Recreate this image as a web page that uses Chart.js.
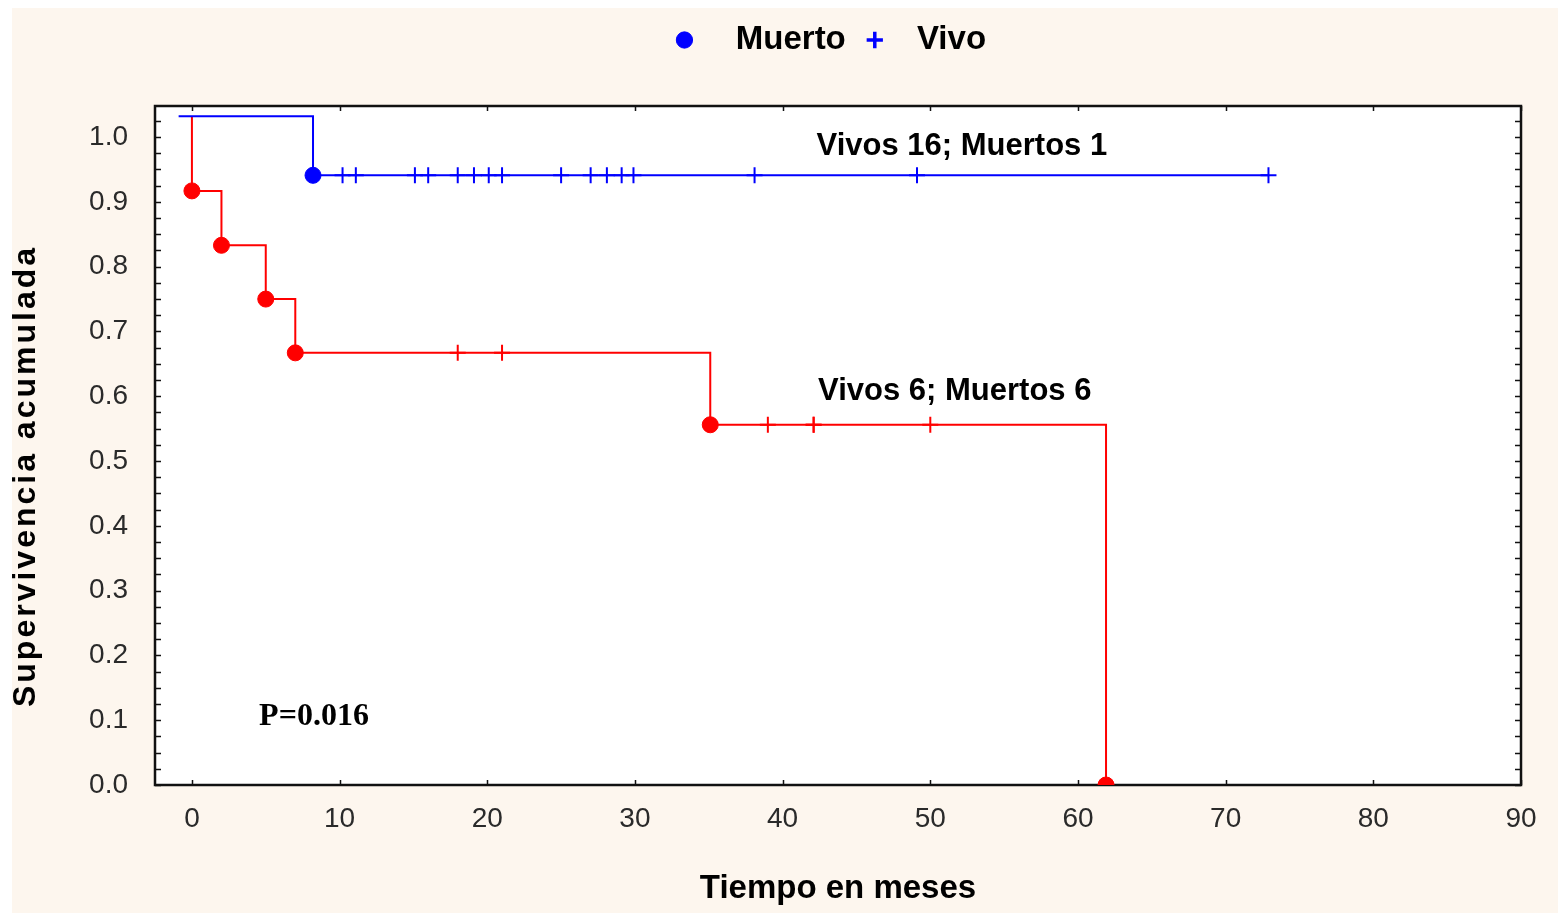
<!DOCTYPE html>
<html lang="es">
<head>
<meta charset="utf-8">
<title>Supervivencia acumulada</title>
<script src="https://cdn.jsdelivr.net/npm/chart.js@4.4.1/dist/chart.umd.min.js"></script>
<style>
  html, body { margin: 0; padding: 0; background: #ffffff; }
  #wrap { width: 1558px; height: 916px; position: relative; }
</style>
</head>
<body>
<div id="wrap"><canvas id="km" width="1558" height="916"></canvas></div>
<script>
// Kaplan–Meier step curves: time in months, cumulative survival level
const blueCurveTimes = [-0.9, 8.2, 72.9];
const blueCurveSurv  = [1.032, 0.941, 0.941];
const redCurveTimes  = [0.0, 0.0, 2.0, 5.0, 7.0, 35.1, 61.9];
const redCurveSurv   = [1.032, 0.917, 0.833, 0.750, 0.667, 0.556, 0.000];

// Events (deaths, filled circles) and censored cases (alive, crosses)
const blueDeathTimes  = [8.2];
const blueCensorTimes = [10.2, 11.1, 15.1, 16.0, 18.0, 19.1, 20.1, 21.0, 25.0, 27.0, 28.1, 29.1, 29.9, 38.1, 49.1, 72.9];
const redDeathTimes   = [0.0, 2.0, 5.0, 7.0, 35.1, 61.9];
const redCensorTimes  = [18.0, 21.0, 39.0, 42.1, 42.1, 50.0];

// Axis ticks and texts
const xTickValues = [0, 10, 20, 30, 40, 50, 60, 70, 80, 90];
const yTickValues = [0.0, 0.1, 0.2, 0.3, 0.4, 0.5, 0.6, 0.7, 0.8, 0.9, 1.0];
const legendLabels = ['Muerto', 'Vivo'];
const xAxisTitle = 'Tiempo en meses';
const yAxisTitle = 'Supervivencia acumulada';
const groupNotes = ['Vivos 16; Muertos 1', 'Vivos 6; Muertos 6'];
const pValueNote = 'P=0.016';

const BLUE = '#0000ff';
const RED = '#ff0000';
const SANS = "'Liberation Sans', Arial, sans-serif";
const SERIF = "'Liberation Serif', 'Times New Roman', serif";

// survival level in force at time t on a step curve
function levelAt(times, surv, t) {
  let v = surv[0];
  for (let i = 0; i < times.length; i++) {
    if (times[i] <= t + 1e-9) v = surv[i];
  }
  return v;
}
function curvePoints(times, surv) {
  return times.map((t, i) => ({ x: t, y: surv[i] }));
}
function eventPoints(eventTimes, times, surv) {
  return eventTimes.map(t => ({ x: t, y: levelAt(times, surv, t) }));
}

// cream panel behind the chart and white plotting area
const panelBackground = {
  id: 'panelBackground',
  beforeDraw(chart) {
    const { ctx, chartArea: a } = chart;
    ctx.save();
    ctx.fillStyle = '#ffffff';
    ctx.fillRect(0, 0, chart.width, chart.height);
    ctx.fillStyle = '#fdf6ee';
    ctx.fillRect(12, 8, chart.width - 12, 905);
    ctx.fillStyle = '#ffffff';
    ctx.fillRect(a.left, a.top, a.right - a.left, a.bottom - a.top);
    ctx.restore();
  }
};

// frame around the plotting area with inward tick marks on all four sides
const plotFrame = {
  id: 'plotFrame',
  beforeDatasetsDraw(chart) {
    const { ctx, chartArea: a, scales: { x, y } } = chart;
    ctx.save();
    ctx.strokeStyle = '#111111';
    ctx.lineWidth = 1.5;
    ctx.beginPath();
    xTickValues.forEach(v => {
      const px = Math.round(x.getPixelForValue(v)) + 0.5;
      ctx.moveTo(px, a.bottom); ctx.lineTo(px, a.bottom - 5);
      ctx.moveTo(px, a.top); ctx.lineTo(px, a.top + 5);
    });
    for (let k = 0; k <= 41; k++) {
      const py = Math.round(y.getPixelForValue(k * 0.025)) + 0.5;
      ctx.moveTo(a.left, py); ctx.lineTo(a.left + 6, py);
      ctx.moveTo(a.right, py); ctx.lineTo(a.right - 6, py);
    }
    ctx.stroke();
    ctx.lineWidth = 2.5;
    ctx.strokeStyle = '#111111';
    ctx.strokeRect(a.left, a.top, a.right - a.left, a.bottom - a.top);
    ctx.restore();
  }
};

// group notes and p-value placed in data coordinates
const notes = {
  id: 'notes',
  afterDatasetsDraw(chart) {
    const { ctx, scales: { x, y } } = chart;
    const items = [
      { text: groupNotes[0], x: 42.3, y: 0.972, font: `bold 31px ${SANS}` },
      { text: groupNotes[1], x: 42.4, y: 0.594, font: `bold 31px ${SANS}` },
      { text: pValueNote,    x: 4.55, y: 0.093, font: `bold 32px ${SERIF}` }
    ];
    ctx.save();
    ctx.fillStyle = '#000000';
    ctx.textAlign = 'left';
    ctx.textBaseline = 'alphabetic';
    items.forEach(it => {
      ctx.font = it.font;
      ctx.fillText(it.text, x.getPixelForValue(it.x), y.getPixelForValue(it.y));
    });
    ctx.restore();
  }
};

// vertical axis title
const yTitle = {
  id: 'yTitle',
  afterDraw(chart) {
    const { ctx } = chart;
    ctx.save();
    ctx.translate(26, 476);
    ctx.rotate(-Math.PI / 2);
    ctx.font = `bold 32px ${SANS}`;
    if ('letterSpacing' in ctx) ctx.letterSpacing = '3px';
    ctx.fillStyle = '#000000';
    ctx.textAlign = 'center';
    ctx.textBaseline = 'middle';
    ctx.fillText(yAxisTitle, 0, 0);
    ctx.restore();
  }
};

// legend band: fixed height above the plot, items centred over the plot
const legendBand = {
  id: 'legendBand',
  beforeInit(chart) {
    const fit = chart.legend.fit;
    chart.legend.fit = function () {
      fit.call(this);
      this.height = 95;
    };
  },
  afterLayout(chart) {
    chart.legend.left = 133;
    chart.legend.right = chart.chartArea.right;
  }
};

new Chart(document.getElementById('km'), {
  type: 'scatter',
  data: {
    datasets: [
      {
        label: legendLabels[0],
        data: eventPoints(blueDeathTimes, blueCurveTimes, blueCurveSurv),
        pointStyle: 'circle', pointRadius: 8,
        backgroundColor: BLUE, borderColor: BLUE, borderWidth: 1, pointBorderWidth: 1,
        clip: 0
      },
      {
        label: legendLabels[1],
        data: eventPoints(blueCensorTimes, blueCurveTimes, blueCurveSurv),
        pointStyle: 'cross', pointRadius: 8,
        backgroundColor: BLUE, borderColor: BLUE, borderWidth: 2, pointBorderWidth: 2,
        clip: 0
      },
      {
        label: legendLabels[0],
        data: eventPoints(redDeathTimes, redCurveTimes, redCurveSurv),
        pointStyle: 'circle', pointRadius: 8,
        backgroundColor: RED, borderColor: RED, borderWidth: 1, pointBorderWidth: 1,
        clip: 0
      },
      {
        label: legendLabels[1],
        data: eventPoints(redCensorTimes, redCurveTimes, redCurveSurv),
        pointStyle: 'cross', pointRadius: 8,
        backgroundColor: RED, borderColor: RED, borderWidth: 2, pointBorderWidth: 2,
        clip: 0
      },
      {
        label: 'curva 1',
        data: curvePoints(blueCurveTimes, blueCurveSurv),
        showLine: true, stepped: true, pointRadius: 0, fill: false,
        borderColor: BLUE, borderWidth: 2, clip: 0
      },
      {
        label: 'curva 2',
        data: curvePoints(redCurveTimes, redCurveSurv),
        showLine: true, stepped: true, pointRadius: 0, fill: false,
        borderColor: RED, borderWidth: 2, clip: 0
      }
    ]
  },
  options: {
    responsive: false,
    animation: false,
    events: [],
    layout: { padding: { left: 0, right: 37, top: 11, bottom: 0 } },
    plugins: {
      tooltip: { enabled: false },
      legend: {
        display: true,
        position: 'top',
        align: 'center',
        labels: {
          usePointStyle: true,
          boxHeight: 11.5,
          padding: 12.5,
          color: '#000000',
          font: { family: SANS, size: 33, weight: 'bold' },
          generateLabels(chart) {
            const base = Chart.defaults.plugins.legend.labels.generateLabels(chart);
            return base
              .filter(it => it.datasetIndex < 2)
              .map(it => Object.assign({}, it, {
                text: (it.datasetIndex === 0 ? '  ' : ' ') + it.text,
                lineWidth: it.datasetIndex === 0 ? 1 : 3.5
              }));
          }
        }
      }
    },
    scales: {
      x: {
        type: 'linear',
        min: -2.5,
        max: 90,
        afterBuildTicks(s) { s.ticks = xTickValues.map(v => ({ value: v })); },
        afterFit(s) { s.height = 131; },
        grid: { display: false, drawTicks: false },
        border: { display: false },
        ticks: {
          autoSkip: false, maxRotation: 0, padding: 17,
          color: '#2a2a2a',
          font: { family: SANS, size: 28 },
          callback: v => String(v)
        },
        title: {
          display: true,
          text: xAxisTitle,
          color: '#000000',
          font: { family: SANS, size: 33, weight: 'bold' },
          padding: { top: 0, bottom: 7 }
        }
      },
      y: {
        type: 'linear',
        min: 0,
        max: 1.048,
        afterBuildTicks(s) { s.ticks = yTickValues.map(v => ({ value: v })); },
        afterFit(s) { s.width = 155; },
        grid: { display: false, drawTicks: false },
        border: { display: false },
        ticks: {
          autoSkip: false, padding: 27,
          color: '#2a2a2a',
          font: { family: SANS, size: 28 },
          callback: v => Number(v).toFixed(1)
        }
      }
    }
  },
  plugins: [legendBand, panelBackground, plotFrame, notes, yTitle]
});
</script>
</body>
</html>
